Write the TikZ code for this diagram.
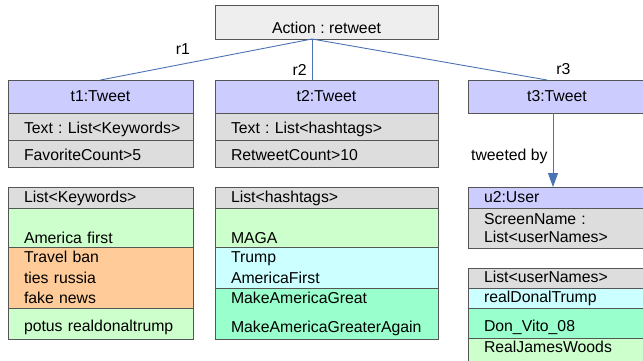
\documentclass[tikz,border=0pt]{standalone}
\usepackage{fontspec}
\setmainfont{Liberation Sans}
\usetikzlibrary{arrows.meta,positioning,calc}
\definecolor{hdrblue}{HTML}{CCCCFF}
\definecolor{rowgray}{HTML}{DDDDDD}
\definecolor{actgray}{HTML}{EEEEEE}
\definecolor{boxline}{HTML}{555555}
\definecolor{linkblue}{HTML}{4A73B4}
\definecolor{kwgreen}{HTML}{CCFFCC}
\definecolor{kworange}{HTML}{FFCC99}
\definecolor{tagcyan}{HTML}{CCFFFF}
\definecolor{tagmint}{HTML}{99FFCC}
\frenchspacing

\begin{document}
\begin{tikzpicture}[
    x=1pt, y=-1pt,
    font=\fontsize{15.8}{20.5}\selectfont,
    cell/.style={rectangle, draw=boxline, line width=0.9pt, anchor=north west, outer sep=0pt,
        inner xsep=16pt, inner ysep=0pt, align=left, text height=13pt, text depth=4pt},
    multi/.style={text height={}, text depth={}},
    colA/.style={text width=153pt},
    colB/.style={text width=191pt},
    colC/.style={text width=146pt},
    head/.style={cell, fill=hdrblue, align=center, minimum height=33pt},
    attr/.style={cell, fill=rowgray, minimum height=27pt, text height=17pt},
    listhead/.style={cell, fill=rowgray, minimum height=21pt},
    link/.style={draw=linkblue, line width=0.9pt},
    tag/.style={inner sep=0pt}
]
    \clip (0,0) rectangle (643,360);

    % Action on top
    \node[cell, fill=actgray, minimum width=223pt, minimum height=34pt, align=center,
        text height=27pt] (action) at (215,5) {Action : retweet};
    \coordinate (hub) at ([xshift=-14.5pt]action.south);

    % t1 column
    \node[head, colA] (t1) at (8,80) {t1:Tweet};
    \node[attr, colA, below=0pt of t1] (t1text) {\mbox{Text : List<Keywords>}};
    \node[attr, colA, below=0pt of t1text] (t1count) {FavoriteCount>5};

    \node[listhead, colA] (kwhead) at (8,187) {List<Keywords>};
    \node[cell, multi, colA, fill=kwgreen, minimum height=39pt, below=0pt of kwhead] (kwa) {\vphantom{A}\\America first};
    \node[cell, multi, colA, fill=kworange, minimum height=61pt, below=0pt of kwa] (kwb) {Travel ban\\ties russia\\fake news};
    \node[cell, colA, fill=kwgreen, minimum height=31pt, text height=20pt, below=0pt of kwb] (kwc) {\mbox{potus realdonaltrump}};

    % t2 column
    \node[head, colB] (t2) at (215,80) {t2:Tweet};
    \node[attr, colB, below=0pt of t2] (t2text) {Text : List<hashtags>};
    \node[attr, colB, below=0pt of t2text] (t2count) {RetweetCount>10};

    \node[listhead, colB] (taghead) at (215,187) {List<hashtags>};
    \node[cell, multi, colB, fill=kwgreen, minimum height=39pt, below=0pt of taghead] (taga) {\vphantom{A}\\MAGA};
    \node[cell, multi, colB, fill=tagcyan, minimum height=41pt, below=0pt of taga] (tagb) {Trump\\AmericaFirst};
    \node[cell, multi, colB, fill=tagmint, minimum height=51pt,
        font=\fontsize{15.8}{29}\selectfont, below=0pt of tagb] (tagc) {MakeAmericaGreat\\MakeAmericaGreaterAgain};

    % t3 column
    \node[head, colC] (t3) at (468,80) {t3:Tweet};

    \node[cell, colC, fill=hdrblue, minimum height=21pt] (u2) at (468,187) {u2:User};
    \node[cell, multi, colC, fill=rowgray, minimum height=40pt, font=\fontsize{15.8}{18}\selectfont,
        below=0pt of u2] (u2name) {ScreenName :\\List<userNames>};

    \node[cell, colC, fill=rowgray, minimum height=20pt] (namehead) at (468,268) {List<userNames>};
    \node[cell, colC, fill=tagcyan, minimum height=20pt, below=0pt of namehead] (namea) {realDonalTrump};
    \node[cell, colC, fill=tagmint, minimum height=30pt, text height=21pt, below=0pt of namea] (nameb) {Don\_Vito\_08};
    \node[cell, colC, fill=kwgreen, minimum height=24pt, text height=9pt, below=0pt of nameb] (namec) {RealJamesWoods};

    % connectors
    \draw[link] (hub) -- node[tag, pos=0.61, above=9pt] (r1) {r1} (t1.north);
    \draw[link] (hub) -- node[tag, pos=0.76, left=5pt] (r2) {r2} (hub |- t2.north);
    \draw[link] (hub) -- node[tag, pos=1, anchor=south west, xshift=9pt, yshift=4.5pt] (r3) {r3}
        ([xshift=-10pt]t3.north);
    \draw[link, -{Triangle[width=10pt,length=14pt]}] ([xshift=-4pt]t3.south)
        -- node[tag, pos=0.58, left=5pt] (by) {tweeted by} ([xshift=-4pt]u2.north);

\end{tikzpicture}
\end{document}
